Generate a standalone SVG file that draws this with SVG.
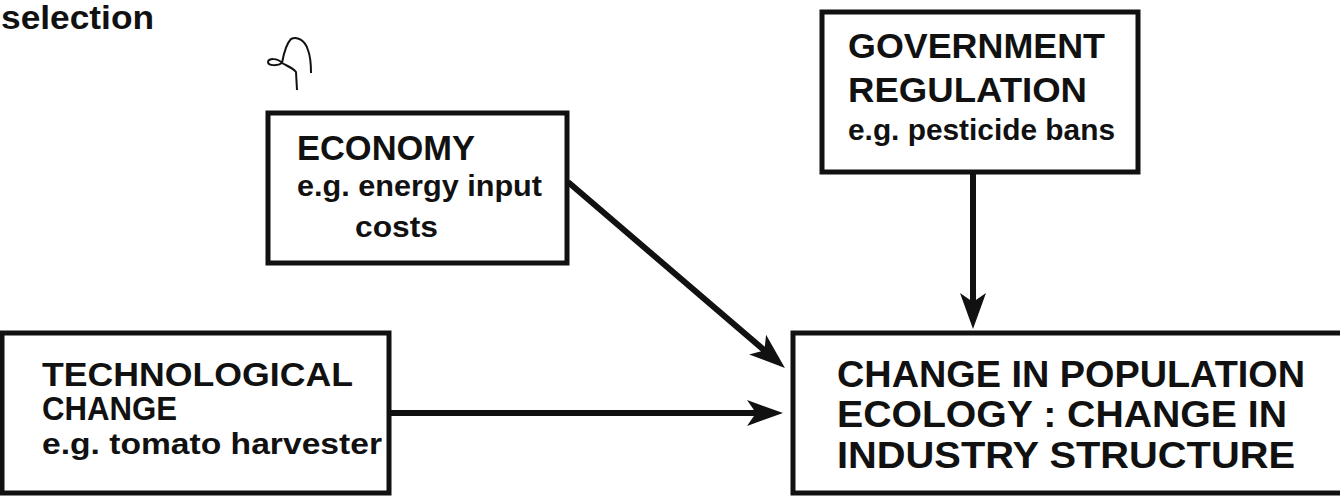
<svg xmlns="http://www.w3.org/2000/svg" width="1340" height="497" viewBox="0 0 1340 497">
<style>
.box{fill:#fff;stroke:#111;stroke-width:5}
.t{font-family:"Liberation Sans",Arial,sans-serif;font-weight:bold;fill:#111}
.cap{font-size:35px}
.tc{font-size:33px}
.big{font-size:37px}
.sm{font-size:30px}
.con{stroke:#111;stroke-width:6;fill:none}
</style>
<defs>
<marker id="ah" markerUnits="userSpaceOnUse" markerWidth="38" markerHeight="30" viewBox="0 0 38 30" refX="15" refY="14" orient="auto">
<path d="M0,1 L36,14 L0,27 L9,14 Z" fill="#111"/>
</marker>
</defs>
<rect width="1340" height="497" fill="#fff"/>
<text class="t" x="1" y="29" font-size="34" textLength="153" lengthAdjust="spacingAndGlyphs">selection</text>
<path d="M282,63 C284,52 286,44 291,39 C297,36 305,40 308,50 C311,58 311,66 311,73 M282,63 C278,58 268,58 268,62 C268,66 278,66 282,63 C287,66 293,68 296,72 L297,90" fill="none" stroke="#111" stroke-width="2"/>
<g id="connectors">
<line class="con" x1="389" y1="413" x2="762" y2="413" marker-end="url(#ah)"/>
<line class="con" x1="973" y1="172" x2="973" y2="308" marker-end="url(#ah)"/>
<line class="con" x1="568" y1="182" x2="769" y2="354.3" marker-end="url(#ah)"/>
</g>
<g id="economy">
<rect class="box" x="268" y="113" width="299" height="150"/>
<text class="t cap" x="297" y="160" textLength="178" lengthAdjust="spacingAndGlyphs">ECONOMY</text>
<text class="t sm" x="297" y="196" textLength="245" lengthAdjust="spacingAndGlyphs">e.g. energy input</text>
<text class="t sm" x="355" y="237" textLength="83" lengthAdjust="spacingAndGlyphs">costs</text>
</g>
<g id="government">
<rect class="box" x="822" y="12" width="316" height="160"/>
<text class="t cap" x="848" y="58" textLength="257" lengthAdjust="spacingAndGlyphs">GOVERNMENT</text>
<text class="t cap" x="848" y="102" textLength="239" lengthAdjust="spacingAndGlyphs">REGULATION</text>
<text class="t sm" x="848" y="140" textLength="267" lengthAdjust="spacingAndGlyphs">e.g. pesticide bans</text>
</g>
<g id="technological">
<rect class="box" x="2" y="333" width="387" height="160"/>
<text class="t tc" x="42" y="386" textLength="311" lengthAdjust="spacingAndGlyphs">TECHNOLOGICAL</text>
<text class="t tc" x="42" y="420" textLength="135" lengthAdjust="spacingAndGlyphs">CHANGE</text>
<text class="t sm" x="42" y="454" textLength="340" lengthAdjust="spacingAndGlyphs">e.g. tomato harvester</text>
</g>
<g id="change">
<rect class="box" x="793" y="333" width="552" height="160"/>
<text class="t big" x="837" y="387" textLength="468" lengthAdjust="spacingAndGlyphs">CHANGE IN POPULATION</text>
<text class="t big" x="837" y="427" textLength="450" lengthAdjust="spacingAndGlyphs">ECOLOGY : CHANGE IN</text>
<text class="t big" x="837" y="468" textLength="458" lengthAdjust="spacingAndGlyphs">INDUSTRY STRUCTURE</text>
</g>
</svg>
